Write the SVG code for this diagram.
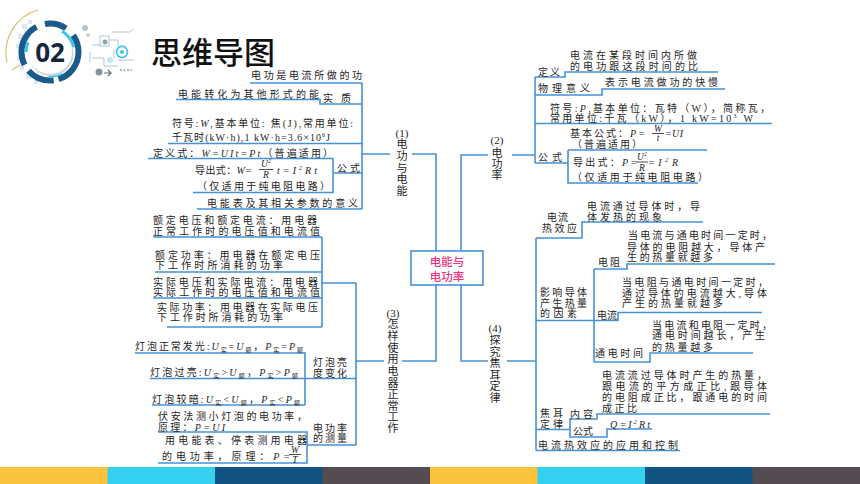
<svg xmlns="http://www.w3.org/2000/svg" width="860" height="484" viewBox="0 0 860 484">
<style>
.t{font-family:"Liberation Serif","Noto Sans CJK SC",serif;font-size:10px;fill:#1e1e1e}
.i{font-style:italic}
.s{font-size:6px}
.f{font-size:9.5px}
.ln{stroke:#4592d6;stroke-width:1.6;fill:none}
.v{font-family:"Liberation Serif","Noto Sans CJK SC",serif;font-size:11px;fill:#1e1e1e;text-anchor:middle}
.bar{stroke:#1e1e1e;stroke-width:0.8}
.tech{stroke:#9fb6c6;stroke-width:0.8;fill:none}
</style>
<rect width="860" height="484" fill="#ffffff"/>

<g id="logo">
  <path d="M7 62 A44 44 0 0 1 38 10" stroke="#d8bd6e" stroke-width="1.2" fill="none"/>
  <path d="M12 70 L20 65" stroke="#d8bd6e" stroke-width="1.2"/>
  <g fill="#d8e9f4">
    <rect x="22" y="24" width="5" height="5"/><rect x="28" y="20" width="4" height="4"/><rect x="18" y="34" width="5" height="5"/>
    <rect x="16" y="44" width="4" height="4"/><rect x="17" y="56" width="5" height="5"/><rect x="20" y="66" width="4" height="4"/>
    <rect x="26" y="74" width="5" height="5"/><rect x="34" y="80" width="4" height="4"/><rect x="24" y="30" width="3" height="3"/>
  </g>
  <circle cx="50" cy="52" r="28.5" fill="none" stroke="#1b5b8c" stroke-width="6" stroke-dasharray="36 5 28 7 44 9 22 10 18 200"/>
  <circle cx="50" cy="52" r="24" fill="none" stroke="#39c6ea" stroke-width="3" stroke-dasharray="10 40 20 30 14 200" transform="rotate(180 50 52)"/>
  <circle cx="51" cy="53.5" r="22.5" fill="#cfd5db"/>
  <circle cx="50" cy="52" r="22" fill="#ffffff"/>
  <text x="50" y="62" text-anchor="middle" font-family="'Open Sans','Liberation Sans',sans-serif" font-weight="bold" font-size="26" fill="#16263a">02</text>
  <circle cx="85" cy="28" r="3" fill="#b7c4ce"/>
  <circle cx="88" cy="35" r="2" fill="#c7d2da"/>
  <circle cx="99" cy="72" r="3.5" fill="#7f93a3"/>
  <path d="M104 73 H111 M108 70 L111 73 L108 76" stroke="#5f6f7c" stroke-width="1.2" fill="none"/>
  <rect x="100" y="36" width="9" height="10" class="tech"/>
  <circle cx="105" cy="42" r="2.5" fill="#8fa1ae"/>
  <path class="tech" d="M92 45 H100 M109 40 H118 V46 H126 M112 32 H130 L133 29 M92 58 H104 V66 H118 M118 60 H134 M90 52 V62 M114 50 V58"/>
  <circle cx="122" cy="52" r="5.5" fill="none" stroke="#39c6ea" stroke-width="1.6"/>
  <circle cx="122" cy="52" r="2" fill="#39c6ea"/>
  <circle cx="110" cy="60" r="3" fill="#bfe6f3"/>
  <path d="M120 70 h12" stroke="#8fa1ae" stroke-width="1.5" stroke-dasharray="2 1.5"/>
</g>

<g id="title">
  <text x="151" y="63.5" font-family="'Noto Sans CJK SC',sans-serif" font-weight="500" font-size="31" fill="#111111">思维导图</text>
</g>

<g id="connectors">
  <path class="ln" d="M250 83 H362 M176 99.5 H320 V104 H362 M168 143.5 H362 M148 158.5 H333 V192.5 H193 M333 173 H362 M197 209 H362 M362 83 V209"/>
  <path class="ln" d="M362 154 H390 M412 154 H436 V251"/>
  <path class="ln" d="M153 237 H322 M155 272 H322 M153 298 H322 M167 327 H322 M322 237 V327 M322 283 H356 M356 283 V445"/>
  <path class="ln" d="M135 353 H305 V405 M150 378.5 H356 M152 405 H305 M158 432 H307 V463 H158 M307 445 H356"/>
  <path class="ln" d="M356 361 H384 M402 361 H436 V285"/>
  <path class="ln" d="M535 77 H565 V72 H718 M535 95 H602 V89 H725 M535 123.5 H772 M568 150 H707 M535 163 H568 M568 150 V183 H698 M535 77 V163"/>
  <path class="ln" d="M461 251 V155 H488 M512 155 H535"/>
  <path class="ln" d="M536 238 H582 V222 H703 M594 269 H627 V264 H775 M594 320.5 H618 V312.5 H762 M536 320.5 H594 M594 362 H650 V353 H753 M594 269 V362"/>
  <path class="ln" d="M569 419 H597 V414 H770 M536 429.5 H570 M570 419 V437 H607 V429 H652 M536 450.5 H680 M536 238 V450.5"/>
  <path class="ln" d="M461 285 V361 H488 M507 361 H536"/>
</g>

<g id="center">
  <rect x="411" y="251" width="72" height="34" fill="#ffffff" stroke="#4592d6" stroke-width="1.6"/>
  <text x="447" y="266" text-anchor="middle" font-family="'Noto Sans CJK SC',sans-serif" font-weight="500" font-size="11.5" fill="#e8347c">电能与</text>
  <text x="447" y="281" text-anchor="middle" font-family="'Noto Sans CJK SC',sans-serif" font-weight="500" font-size="11.5" fill="#e8347c">电功率</text>
</g>

<g id="label1">
  <text class="v"><tspan x="402" y="137">(1)</tspan><tspan x="402" y="148">电</tspan><tspan x="402" y="159.5">功</tspan><tspan x="402" y="171.5">与</tspan><tspan x="402" y="182.5">电</tspan><tspan x="402" y="194.5">能</tspan></text>
</g>
<g id="label2">
  <text class="v"><tspan x="497" y="144">(2)</tspan><tspan x="497" y="156.5">电</tspan><tspan x="497" y="167.5">功</tspan><tspan x="497" y="178.5">率</tspan></text>
</g>
<g id="label3">
  <text class="v"><tspan x="393" y="317">(3)</tspan><tspan x="393" y="327.5">怎</tspan><tspan x="393" y="339.5">样</tspan><tspan x="393" y="351.5">使</tspan><tspan x="393" y="362.5">用</tspan><tspan x="393" y="374.5">电</tspan><tspan x="393" y="386.5">器</tspan><tspan x="393" y="397.5">正</tspan><tspan x="393" y="409.5">常</tspan><tspan x="393" y="420.5">工</tspan><tspan x="393" y="431.5">作</tspan></text>
</g>
<g id="label4">
  <text class="v"><tspan x="495" y="332">(4)</tspan><tspan x="495" y="344">探</tspan><tspan x="495" y="355.5">究</tspan><tspan x="495" y="367">焦</tspan><tspan x="495" y="378.5">耳</tspan><tspan x="495" y="390">定</tspan><tspan x="495" y="401.5">律</tspan></text>
</g>

<g id="n1-essence">
  <text class="t" x="251" y="79" textLength="111" lengthAdjust="spacing">电功是电流所做的功</text>
  <text class="t" x="178" y="97.5" textLength="141" lengthAdjust="spacing">电能转化为其他形式的能</text>
  <text class="t" x="323" y="102" textLength="28" lengthAdjust="spacing">实质</text>
</g>
<g id="n1-unit">
  <text class="t" x="172" y="127" textLength="181" lengthAdjust="spacing">符号:<tspan class="i">W</tspan>,基本单位: 焦(J),常用单位:</text>
  <text class="t" x="172" y="141" textLength="158" lengthAdjust="spacing">千瓦时(kW·h),1 kW·h=3.6×10<tspan class="s" baseline-shift="4">6</tspan>J</text>
</g>
<g id="n1-formula">
  <text class="t" x="153" y="156.5" textLength="180" lengthAdjust="spacing">定义式：<tspan class="i">W=UIt=Pt</tspan>（普遍适用）</text>
  <text class="t" x="195" y="174" textLength="57" lengthAdjust="spacing">导出式：<tspan class="i">W=</tspan></text>
  <text class="t i f" x="266" y="167" text-anchor="middle">U<tspan class="s" baseline-shift="4">2</tspan></text>
  <path class="bar" d="M259 169.5 H273"/>
  <text class="t i f" x="266" y="178" text-anchor="middle">R</text>
  <text class="t i" x="277" y="174" textLength="40" lengthAdjust="spacing">t=I<tspan class="s" baseline-shift="4">2</tspan>Rt</text>
  <text class="t" x="197" y="190" textLength="133" lengthAdjust="spacing">（仅适用于纯电阻电路）</text>
  <text class="t" x="337" y="171.5" textLength="23" lengthAdjust="spacing">公式</text>
</g>
<g id="n1-meter">
  <text class="t" x="207" y="206.5" textLength="151" lengthAdjust="spacing">电能表及其相关参数的意义</text>
</g>

<g id="n3-rated">
  <text class="t" x="153" y="224" textLength="164" lengthAdjust="spacing">额定电压和额定电流：用电器</text>
  <text class="t" x="153" y="234.5" textLength="167" lengthAdjust="spacing">正常工作时的电压值和电流值</text>
  <text class="t" x="155" y="259" textLength="165" lengthAdjust="spacing">额定功率：用电器在额定电压</text>
  <text class="t" x="155" y="269" textLength="128" lengthAdjust="spacing">下工作时所消耗的功率</text>
</g>
<g id="n3-actual">
  <text class="t" x="153" y="286" textLength="165" lengthAdjust="spacing">实际电压和实际电流：用电器</text>
  <text class="t" x="153" y="295.5" textLength="167" lengthAdjust="spacing">实际工作时的电压值和电流值</text>
  <text class="t" x="157" y="310.5" textLength="161" lengthAdjust="spacing">实际功率：用电器在实际电压</text>
  <text class="t" x="157" y="321" textLength="126" lengthAdjust="spacing">下工作时所消耗的功率</text>
</g>
<g id="n3-brightness">
  <text class="t" x="135" y="350" textLength="168" lengthAdjust="spacing">灯泡正常发光:<tspan class="i">U</tspan><tspan class="s" baseline-shift="-2">实</tspan>=<tspan class="i">U</tspan><tspan class="s" baseline-shift="-2">额</tspan>，<tspan class="i">P</tspan><tspan class="s" baseline-shift="-2">实</tspan>=<tspan class="i">P</tspan><tspan class="s" baseline-shift="-2">额</tspan></text>
  <text class="t" x="150" y="376" textLength="148" lengthAdjust="spacing">灯泡过亮:<tspan class="i">U</tspan><tspan class="s" baseline-shift="-2">实</tspan>&gt;<tspan class="i">U</tspan><tspan class="s" baseline-shift="-2">额</tspan>，<tspan class="i">P</tspan><tspan class="s" baseline-shift="-2">实</tspan>&gt;<tspan class="i">P</tspan><tspan class="s" baseline-shift="-2">额</tspan></text>
  <text class="t" x="152" y="402.5" textLength="148" lengthAdjust="spacing">灯泡较暗:<tspan class="i">U</tspan><tspan class="s" baseline-shift="-2">实</tspan>&lt;<tspan class="i">U</tspan><tspan class="s" baseline-shift="-2">额</tspan>，<tspan class="i">P</tspan><tspan class="s" baseline-shift="-2">实</tspan>&lt;<tspan class="i">P</tspan><tspan class="s" baseline-shift="-2">额</tspan></text>
  <text class="t" x="313" y="366" textLength="34" lengthAdjust="spacing">灯泡亮</text>
  <text class="t" x="313" y="377" textLength="34" lengthAdjust="spacing">度变化</text>
</g>
<g id="n3-measure">
  <text class="t" x="158" y="419.5" textLength="149" lengthAdjust="spacing">伏安法测小灯泡的电功率，</text>
  <text class="t" x="158" y="430.5" textLength="67" lengthAdjust="spacing">原理：<tspan class="i">P=UI</tspan></text>
  <text class="t" x="165" y="444" textLength="142" lengthAdjust="spacing">用电能表、停表测用电器</text>
  <text class="t" x="162" y="459.5" textLength="128" lengthAdjust="spacing">的电功率，原理：<tspan class="i">P=</tspan></text>
  <text class="t i f" x="295" y="452.5" text-anchor="middle">W</text>
  <path class="bar" d="M289 454.5 H301"/>
  <text class="t i f" x="295" y="462.5" text-anchor="middle">T</text>
  <text class="t" x="313" y="432" textLength="34" lengthAdjust="spacing">电功率</text>
  <text class="t" x="313" y="442" textLength="34" lengthAdjust="spacing">的测量</text>
</g>

<g id="n2-def">
  <text class="t" x="570" y="59" textLength="127" lengthAdjust="spacing">电流在某段时间内所做</text>
  <text class="t" x="570" y="70" textLength="128" lengthAdjust="spacing">的电功跟这段时间的比</text>
  <text class="t" x="538" y="76" textLength="22" lengthAdjust="spacing">定义</text>
</g>
<g id="n2-meaning">
  <text class="t" x="605" y="86" textLength="113" lengthAdjust="spacing">表示电流做功的快慢</text>
  <text class="t" x="538" y="92" textLength="52" lengthAdjust="spacing">物理意义</text>
</g>
<g id="n2-unit">
  <text class="t" x="550" y="112" textLength="220" lengthAdjust="spacing">符号:<tspan class="i">P</tspan>,基本单位：瓦特（W），简称瓦，</text>
  <text class="t" x="550" y="121.5" textLength="203" lengthAdjust="spacing">常用单位:千瓦（kW），1 kW=10<tspan class="s" baseline-shift="4">3</tspan> W</text>
</g>
<g id="n2-formula">
  <text class="t" x="570" y="137" textLength="75" lengthAdjust="spacing">基本公式：<tspan class="i">P=</tspan></text>
  <text class="t i f" x="658" y="131.5" text-anchor="middle">W</text>
  <path class="bar" d="M652 133.5 H664"/>
  <text class="t i f" x="658" y="140.5" text-anchor="middle">t</text>
  <text class="t i" x="665" y="137" textLength="18" lengthAdjust="spacing">=UI</text>
  <text class="t" x="572" y="148" textLength="70" lengthAdjust="spacing">（普遍适用）</text>
  <text class="t" x="538" y="161" textLength="24" lengthAdjust="spacing">公式</text>
  <text class="t" x="573" y="166" textLength="64" lengthAdjust="spacing">导出式：<tspan class="i">P=</tspan></text>
  <text class="t i f" x="642" y="160" text-anchor="middle">U<tspan class="s" baseline-shift="4">2</tspan></text>
  <path class="bar" d="M636 162 H648"/>
  <text class="t i f" x="642" y="170.5" text-anchor="middle">R</text>
  <text class="t i" x="648" y="166" textLength="30" lengthAdjust="spacing">=I<tspan class="s" baseline-shift="4">2</tspan>R</text>
  <text class="t" x="572" y="181" textLength="136" lengthAdjust="spacing">（仅适用于纯电阻电路）</text>
</g>

<g id="n4-effect">
  <text class="t" x="587" y="210" textLength="113" lengthAdjust="spacing">电流通过导体时，导</text>
  <text class="t" x="587" y="220.5" textLength="75" lengthAdjust="spacing">体发热的现象</text>
  <text class="t" x="547" y="221" textLength="21" lengthAdjust="spacing">电流</text>
  <text class="t" x="542" y="232" textLength="35" lengthAdjust="spacing">热效应</text>
</g>
<g id="n4-factors">
  <text class="t" x="628" y="239" textLength="144" lengthAdjust="spacing">当电流与通电时间一定时，</text>
  <text class="t" x="627" y="251" textLength="138" lengthAdjust="spacing">导体的电阻越大，导体产</text>
  <text class="t" x="627" y="261" textLength="86" lengthAdjust="spacing">生的热量就越多</text>
  <text class="t" x="598" y="266" textLength="22" lengthAdjust="spacing">电阻</text>
  <text class="t" x="622" y="286" textLength="146" lengthAdjust="spacing">当电阻与通电时间一定时，</text>
  <text class="t" x="622" y="297" textLength="145" lengthAdjust="spacing">通过导体的电流越大,导体</text>
  <text class="t" x="622" y="307" textLength="101" lengthAdjust="spacing">产生的热量就越多</text>
  <text class="t" x="597" y="318.5" textLength="20" lengthAdjust="spacing">电流</text>
  <text class="t" x="540" y="296" textLength="47" lengthAdjust="spacing">影响导体</text>
  <text class="t" x="540" y="307" textLength="47" lengthAdjust="spacing">产生热量</text>
  <text class="t" x="540" y="317" textLength="37" lengthAdjust="spacing">的因素</text>
  <text class="t" x="652" y="329" textLength="120" lengthAdjust="spacing">当电流和电阻一定时，</text>
  <text class="t" x="652" y="339" textLength="113" lengthAdjust="spacing">通电时间越长，产生</text>
  <text class="t" x="652" y="351" textLength="61" lengthAdjust="spacing">的热量越多</text>
  <text class="t" x="595" y="357" textLength="48" lengthAdjust="spacing">通电时间</text>
</g>
<g id="n4-law">
  <text class="t" x="602" y="379" textLength="165" lengthAdjust="spacing">电流流过导体时产生的热量，</text>
  <text class="t" x="602" y="390" textLength="165" lengthAdjust="spacing">跟电流的平方成正比,跟导体</text>
  <text class="t" x="602" y="401" textLength="165" lengthAdjust="spacing">的电阻成正比，跟通电的时间</text>
  <text class="t" x="602" y="412" textLength="35" lengthAdjust="spacing">成正比</text>
  <text class="t" x="570" y="418" textLength="23" lengthAdjust="spacing">内容</text>
  <text class="t" x="540" y="417" textLength="23" lengthAdjust="spacing">焦耳</text>
  <text class="t" x="540" y="428" textLength="23" lengthAdjust="spacing">定律</text>
  <text class="t" x="573" y="434.5" textLength="20" lengthAdjust="spacing">公式</text>
  <text class="t i" x="610" y="427.5" textLength="40" lengthAdjust="spacing">Q=I<tspan class="s" baseline-shift="4">2</tspan>Rt</text>
</g>
<g id="n4-apply">
  <text class="t" x="538" y="449" textLength="140" lengthAdjust="spacing">电流热效应的应用和控制</text>
</g>

<g id="stripes">
  <rect x="0" y="467" width="108" height="17" fill="#fbc33b"/>
  <rect x="107.5" y="467" width="108" height="17" fill="#35cff0"/>
  <rect x="215" y="467" width="108" height="17" fill="#115383"/>
  <rect x="322.5" y="467" width="108" height="17" fill="#554c53"/>
  <rect x="430" y="467" width="108" height="17" fill="#fbc33b"/>
  <rect x="537.5" y="467" width="108" height="17" fill="#35cff0"/>
  <rect x="645" y="467" width="108" height="17" fill="#115383"/>
  <rect x="752.5" y="467" width="107.5" height="17" fill="#554c53"/>
</g>
</svg>
